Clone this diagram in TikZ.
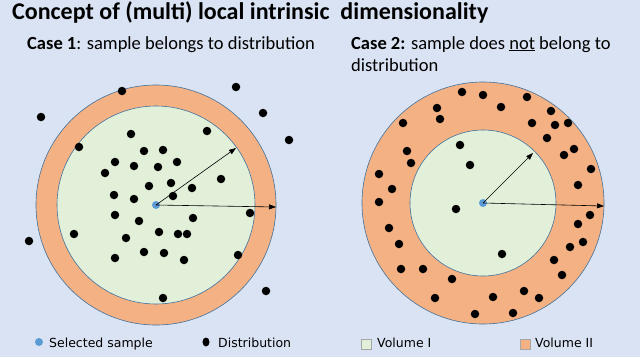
\documentclass[tikz,border=0pt]{standalone}
\usepackage{fontspec}
\setmainfont{Carlito}
\newfontfamily\legendfont{DejaVu Sans}
\definecolor{bgblue}{HTML}{DAE3F3}
\definecolor{volorange}{HTML}{F4B183}
\definecolor{volgreen}{HTML}{E2F0D9}
\definecolor{rimblue}{HTML}{41719C}
\definecolor{sampleblue}{HTML}{5B9BD5}
\usetikzlibrary{arrows.meta,positioning,shapes.geometric}

\begin{document}
\begin{tikzpicture}[x=1pt,y=-1pt,
    volume/.style={draw=rimblue, line width=0.6pt},
    datadot/.style={circle, fill=black, inner sep=0pt, minimum size=8.5pt},
    sampledot/.style={circle, fill=sampleblue, inner sep=0pt, minimum size=8pt},
    radiusarrow/.style={-{Triangle[length=7pt,width=5pt]}, line width=0.6pt},
    titletext/.style={font=\bfseries\fontsize{24}{28}\selectfont, anchor=base west, inner sep=0pt},
    casetext/.style={font=\fontsize{18.5}{22}\selectfont, anchor=base west, inner sep=0pt},
    legendtext/.style={font=\legendfont\fontsize{12.5}{15}\selectfont, anchor=base west, inner sep=0pt},
    legendbox/.style={draw=gray!70, line width=0.4pt, minimum size=10pt, inner sep=0pt}
  ]
    \fill[bgblue] (0,0) rectangle (640,357);
    \useasboundingbox (0,0) rectangle (640,357);

    % headings
    \node[titletext] (title) at (12,19.5) {Concept of (multi) local intrinsic \ dimensionality};
    \node[casetext] (case1) at (27,49) {\textbf{Case 1}: sample belongs to distribution};
    \node[casetext] (case2) at (351,49) {\textbf{Case 2:} sample does \underline{not} belong to};
    \node[casetext] (case2cont) at (351,71) {distribution};

    % case 1
    \coordinate (c1) at (156,205);
    \draw[volume, fill=volorange] (c1) circle[radius=120pt];
    \draw[volume, fill=volgreen] (c1) circle[radius=99pt];
    \foreach \px/\py [count=\i] in {122/91, 41/117, 236/87, 263/113, 289/140, 79/147,
        131/134, 207/131, 144/151, 163/150, 115/162, 134/166, 158/167, 177/162,
        105/173, 149/186, 171/183, 192/188, 221/179, 114/195, 134/199, 173/196,
        250/213, 115/215, 139/221, 193/218, 74/234, 29/241, 126/238, 159/232,
        178/234, 187/234, 115/258, 144/252, 164/253, 184/260, 238/255, 266/291,
        163/298}
      \node[datadot] (ldot\i) at (\px,\py) {};
    \node[sampledot] (sample1) at (c1) {};
    \coordinate (tip1a) at (236,148);
    \coordinate (tip1b) at (276,207);
    \draw[radiusarrow] (sample1.center) -- (tip1a);
    \draw[radiusarrow] (sample1.center) -- (tip1b);

    % case 2
    \coordinate (c2) at (483,203);
    \draw[volume, fill=volorange] (c2) circle[radius=121pt];
    \draw[volume, fill=volgreen] (c2) circle[radius=73pt];
    \foreach \px/\py [count=\i] in {462/92, 483/95, 527/97, 437/108, 501/107, 551/111,
        440/119, 403/123, 532/123, 555/125, 568/123, 547/138, 460/145, 407/151,
        574/149, 564/155, 411/163, 470/165, 379/174, 591/169, 392/189, 578/185,
        379/202, 456/209, 590/215, 578/224, 389/228, 583/242, 570/247, 399/244,
        502/254, 554/260, 562/275, 401/269, 423/269, 452/279, 524/291, 435/298,
        493/297, 539/298, 475/314, 513/313}
      \node[datadot] (rdot\i) at (\px,\py) {};
    \node[sampledot] (sample2) at (c2) {};
    \coordinate (tip2a) at (533,153);
    \coordinate (tip2b) at (604,206);
    \draw[radiusarrow] (sample2.center) -- (tip2a);
    \draw[radiusarrow] (sample2.center) -- (tip2b);

    % legend
    \node[sampledot] (legsample) at (39,342) {};
    \node[legendtext] (legsampletext) at (49,347) {Selected sample};
    \node[datadot, ellipse, minimum width=7pt, minimum height=9pt] (legdot) at (206,342) {};
    \node[legendtext] (legdottext) at (218,347) {Distribution};
    \node[legendbox, fill=volgreen] (legvol1) at (366,344) {};
    \node[legendtext] (legvol1text) at (377,347) {Volume I};
    \node[legendbox, fill=volorange] (legvol2) at (525.5,344) {};
    \node[legendtext] (legvol2text) at (535,347) {Volume II};
  \end{tikzpicture}
\end{document}
